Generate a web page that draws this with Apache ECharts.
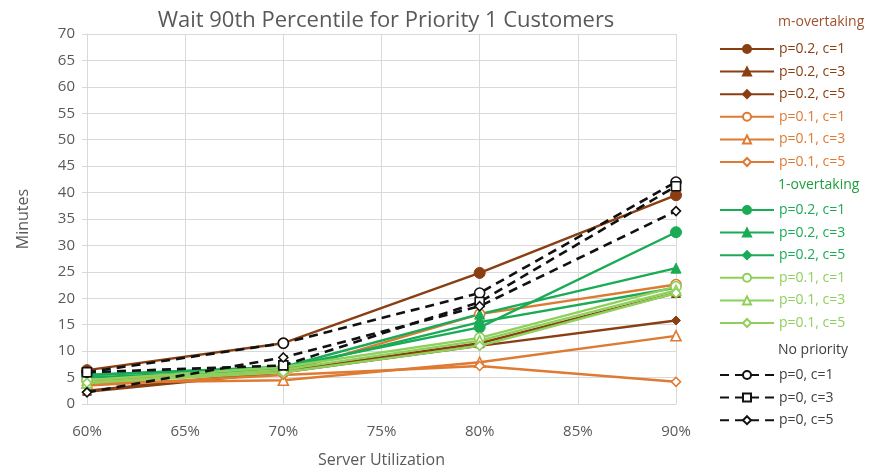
<!DOCTYPE html>
<html>
<head>
<meta charset="utf-8">
<script src="https://cdn.jsdelivr.net/npm/echarts@6/dist/echarts.min.js"></script>
<style>html,body{margin:0;padding:0;background:#fff}#c{width:871px;height:474px}</style>
</head>
<body>
<div id="c"></div>
<script>
// Server utilization (%)
var utilization = [60, 70, 80, 90];
var xTicks = ['60%', '65%', '70%', '75%', '80%', '85%', '90%'];

// m-overtaking
var m_p02_c1 = [6.4, 11.5, 24.8, 39.5];
var m_p02_c3 = [2.5, 6.2, 11.5, 21.0];
var m_p02_c5 = [2.3, 6.0, 11.0, 15.8];
var m_p01_c1 = [4.5, 6.0, 17.0, 22.6];
var m_p01_c3 = [4.0, 4.5, 7.9, 12.9];
var m_p01_c5 = [3.5, 5.5, 7.2, 4.2];

// 1-overtaking
var o_p02_c1 = [5.5, 7.0, 14.5, 32.5];
var o_p02_c3 = [5.5, 7.0, 17.0, 25.7];
var o_p02_c5 = [5.0, 6.5, 15.5, 22.0];
var o_p01_c1 = [4.5, 7.0, 12.5, 22.2];
var o_p01_c3 = [4.0, 6.5, 12.0, 21.5];
var o_p01_c5 = [4.0, 6.0, 11.0, 21.0];

// No priority
var n_c1 = [6.0, 11.5, 21.0, 42.0];
var n_c3 = [6.0, 7.3, 19.3, 41.2];
var n_c5 = [2.2, 8.8, 18.5, 36.5];

var DARK = '#8a3f12', ORANGE = '#de7a32', GREEN = '#1aab56', LGREEN = '#8fd05c', BLACK = '#111111';

function pairs(vals) { return utilization.map(function (u, i) { return [u, vals[i]]; }); }

function mk(name, vals, color, symbol, size, open, dashed) {
  return {
    name: name, type: 'line', data: pairs(vals),
    symbol: symbol, symbolSize: size, showSymbol: true,
    lineStyle: { color: color, width: dashed ? 2.6 : 2.4, type: dashed ? [9, 6] : 'solid' },
    itemStyle: { color: open ? '#ffffff' : color, borderColor: color, borderWidth: open ? 1.6 : 1 },
    color: color,
    z: dashed ? 5 : 3
  };
}

var series = [
  mk('m|p=0.2, c=1', m_p02_c1, DARK, 'circle', 11, false, false),
  mk('m|p=0.2, c=3', m_p02_c3, DARK, 'triangle', 9, false, false),
  mk('m|p=0.2, c=5', m_p02_c5, DARK, 'diamond', 9, false, false),
  mk('m|p=0.1, c=1', m_p01_c1, ORANGE, 'circle', 10, true, false),
  mk('m|p=0.1, c=3', m_p01_c3, ORANGE, 'triangle', 10, true, false),
  mk('m|p=0.1, c=5', m_p01_c5, ORANGE, 'diamond', 9, true, false),
  mk('o|p=0.2, c=1', o_p02_c1, GREEN, 'circle', 11, false, false),
  mk('o|p=0.2, c=3', o_p02_c3, GREEN, 'triangle', 10, false, false),
  mk('o|p=0.2, c=5', o_p02_c5, GREEN, 'diamond', 9, false, false),
  mk('o|p=0.1, c=1', o_p01_c1, LGREEN, 'circle', 10, true, false),
  mk('o|p=0.1, c=3', o_p01_c3, LGREEN, 'triangle', 10, true, false),
  mk('o|p=0.1, c=5', o_p01_c5, LGREEN, 'diamond', 9, true, false),
  mk('n|p=0, c=1', n_c1, BLACK, 'circle', 10, true, true),
  mk('n|p=0, c=3', n_c3, BLACK, 'rect', 9, true, true),
  mk('n|p=0, c=5', n_c5, BLACK, 'diamond', 9, true, true)
];

function legendFor(prefix, top) {
  var items = series.filter(function (s) { return s.name.indexOf(prefix + '|') === 0; }).map(function (s) {
    return { name: s.name, textStyle: { color: s.color === BLACK ? '#404040' : s.color } };
  });
  return {
    orient: 'vertical', left: 714, top: top, itemWidth: 54, itemHeight: 10, itemGap: 8.6,
    data: items, selectedMode: false,
    formatter: function (n) { return n.split('|')[1]; },
    textStyle: { fontSize: 14, fontFamily: 'Open Sans, Liberation Sans, sans-serif', padding: [0, 0, 0, 0] }
  };
}

var chart = echarts.init(document.getElementById('c'), null, { renderer: 'canvas' });
chart.setOption({
  backgroundColor: '#ffffff',
  animation: false,
  title: {
    text: 'Wait 90th Percentile for Priority 1 Customers',
    left: 381, top: 5, textAlign: 'center',
    textStyle: { color: '#595959', fontSize: 22, fontWeight: 'normal', fontFamily: 'Open Sans, Liberation Sans, sans-serif' }
  },
  grid: { left: 87, right: 195, top: 34, bottom: 70 },
  xAxis: {
    type: 'value', min: 60, max: 90, interval: 5,
    name: 'Server Utilization', nameLocation: 'middle', nameGap: 48,
    nameTextStyle: { color: '#595959', fontSize: 16, fontFamily: 'Open Sans, Liberation Sans, sans-serif' },
    axisLine: { show: true, lineStyle: { color: '#d9d9d9' } },
    axisTick: { show: false },
    axisLabel: { color: '#595959', fontSize: 15, margin: 20, fontFamily: 'Open Sans, Liberation Sans, sans-serif',
      formatter: function (v) { return xTicks[Math.round((v - 60) / 5)]; } },
    splitLine: { show: true, lineStyle: { color: '#d9d9d9', width: 1 } }
  },
  yAxis: {
    type: 'value', min: 0, max: 70, interval: 5,
    name: 'Minutes', nameLocation: 'middle', nameGap: 56, nameRotate: 90,
    nameTextStyle: { color: '#595959', fontSize: 16, fontFamily: 'Open Sans, Liberation Sans, sans-serif' },
    axisLine: { show: true, lineStyle: { color: '#d9d9d9' } },
    axisTick: { show: true, length: 5, lineStyle: { color: '#d9d9d9' } },
    axisLabel: { color: '#595959', fontSize: 15, margin: 12, fontFamily: 'Open Sans, Liberation Sans, sans-serif' },
    splitLine: { show: true, lineStyle: { color: '#d9d9d9', width: 1 } }
  },
  legend: [legendFor('m', 37), legendFor('o', 198), legendFor('n', 363)],
  graphic: [
    { type: 'text', left: 778, top: 15, style: { text: 'm-overtaking', fill: '#a0522d', font: '14px "Open Sans", sans-serif' } },
    { type: 'text', left: 778, top: 178, style: { text: '1-overtaking', fill: '#1e9e3e', font: '14px "Open Sans", sans-serif' } },
    { type: 'text', left: 778, top: 343, style: { text: 'No priority', fill: '#404040', font: '14px "Open Sans", sans-serif' } }
  ],
  series: series
});
</script>
</body>
</html>
